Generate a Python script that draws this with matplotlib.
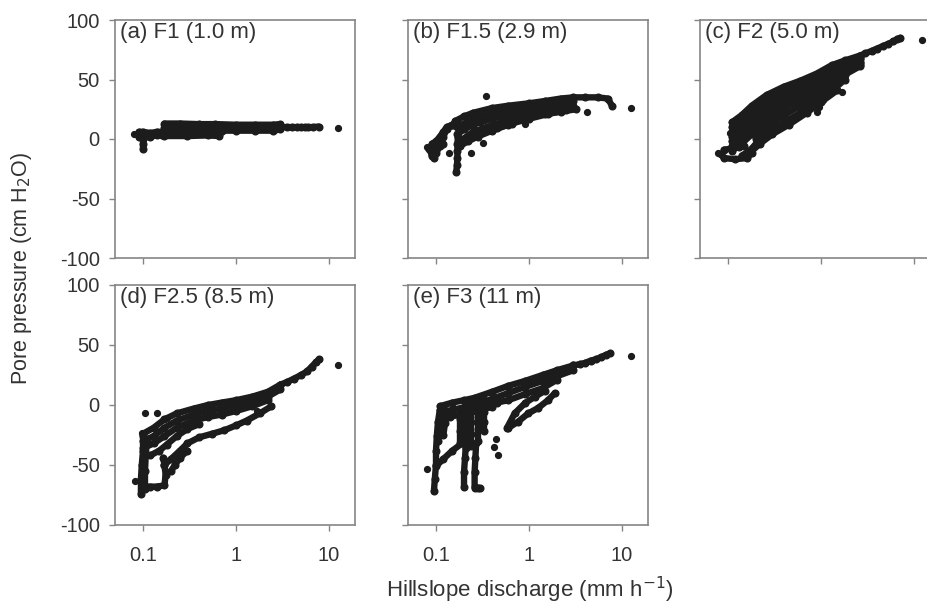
import numpy as np
import matplotlib
matplotlib.use("Agg")
import matplotlib.pyplot as plt
from matplotlib.ticker import NullLocator, FixedLocator, FixedFormatter

plt.rcParams['font.family'] = ['Liberation Sans', 'DejaVu Sans']
plt.rcParams['axes.unicode_minus'] = False

# ---- data (x: mm/h, y: cm H2O) ----
# each panel = several traces (dense loops) + a few loose points

# (a) F1
f1_tr_x = [[0.09, 0.1, 0.12, 0.14, 0.16],
           [0.09, 0.1, 0.12, 0.14, 0.16],
           [0.1, 0.1, 0.1],
           [0.17, 0.25, 0.4, 0.6, 1.0, 1.6, 2.5, 3.0],
           [0.17, 0.25, 0.4, 0.6, 1.0, 1.6, 2.5, 3.0],
           [0.17, 0.25, 0.4, 0.65, 0.7, 1.0, 1.6, 2.5, 3.0],
           [0.17, 0.3, 0.5, 0.65],
           [3.0, 3.5, 4.0, 4.5, 5.0, 5.5, 6.0, 6.8, 7.7]]
f1_tr_y = [[2, 1, 2, 3, 3],
           [6, 6, 5, 6, 6],
           [-8, -4, 0],
           [13, 13, 12.5, 12.5, 12, 12, 12, 12.5],
           [9.5, 9.5, 9.5, 9.5, 9.5, 9.5, 9.5, 9.5],
           [6, 6, 6, 4, 7, 7, 7, 7, 8],
           [2.5, 2.5, 3, 2.5],
           [10, 10, 10, 10, 10, 10, 10, 10, 10.5]]
f1_pt_x = [0.08, 12.5]
f1_pt_y = [4, 9]

# (b) F1.5
f15_tr_x = [[0.085, 0.09, 0.1, 0.11, 0.12, 0.13, 0.15],
            [0.09, 0.1, 0.11, 0.12, 0.13, 0.15, 0.17],
            [0.095, 0.1, 0.11, 0.12],
            [0.165, 0.168, 0.17, 0.17, 0.17, 0.172],
            [0.16, 0.2, 0.25, 0.4, 0.6, 1.0, 1.5, 2.2, 3.0, 4.0, 5.5, 7.0, 7.8],
            [0.17, 0.25, 0.4, 0.6, 1.0, 1.5, 2.2, 3.0],
            [0.17, 0.2, 0.25, 0.3, 0.4, 0.55, 0.75, 1.0, 1.5, 2.2],
            [0.18, 0.25, 0.35, 0.5, 0.8, 1.2, 2.0, 3.0],
            [0.2, 0.3, 0.45, 0.65, 1.0, 1.6, 2.5],
            [0.18, 0.22, 0.28, 0.4, 0.6, 0.95, 1.5, 2.2, 3.2]]
f15_tr_y = [[-8, -14, -12, -6, 2, 8, 12],
            [-4, -2, 2, 6, 10, 12, 14],
            [-16, -8, -2, -4],
            [-28, -22, -16, -10, -4, 2],
            [15, 19, 22, 26, 28, 30, 32, 34, 35, 35, 35, 34, 28],
            [10, 17, 21, 24, 27, 29, 31, 32],
            [4, 8, 12, 14, 17, 20, 23, 25, 27, 29],
            [-2, 6, 10, 14, 19, 23, 26, 28],
            [0, 5, 9, 13, 17, 21, 24],
            [-6, -2, 2, 7, 12, 18, 21, 23, 25]]
f15_pt_x = [0.08, 0.345, 0.9, 4.2, 12.4, 0.138, 0.32, 0.24]
f15_pt_y = [-7, 36, 13, 23, 26, -12, -3, -12]

# (c) F2
f2_tr_x = [[0.085, 0.09, 0.12, 0.16, 0.18],
           [0.09, 0.11, 0.13, 0.15],
           [0.11, 0.14, 0.18, 0.26, 0.4, 0.6, 0.9, 1.3, 1.8, 2.6],
           [0.11, 0.14, 0.18, 0.26, 0.4, 0.6, 0.9, 1.3, 1.8, 2.6],
           [0.11, 0.14, 0.18, 0.26, 0.4, 0.6, 0.9, 1.3, 1.8, 2.6],
           [0.11, 0.14, 0.18, 0.26, 0.4, 0.6, 0.9, 1.3, 1.8, 2.6],
           [0.11, 0.14, 0.18, 0.26, 0.4, 0.6, 0.9, 1.3, 1.8, 2.6],
           [0.11, 0.14, 0.18, 0.26, 0.4, 0.6, 0.9, 1.3, 1.8, 2.6],
           [0.11, 0.14, 0.18, 0.26, 0.4, 0.6, 0.9, 1.3, 1.8, 2.6],
           [0.2, 0.26, 0.4, 0.6, 0.9, 1.3],
           [0.14, 0.17, 0.2, 0.26, 0.4, 0.6, 0.9, 1.3, 1.8],
           [0.17, 0.22, 0.3, 0.45, 0.7, 1.0, 1.5],
           [2.6, 3.0, 3.5, 4.0, 4.6, 5.3, 6.0, 6.6, 7.1]]
f2_tr_y = [[-13, -16, -17, -16, -12],
           [-9, -8, -7, -6],
           [14, 20, 28, 37, 44, 49, 55, 62, 66, 70],
           [10, 16, 24, 33, 41, 46, 52, 59, 64, 68],
           [6, 12, 20, 30, 38, 44, 50, 57, 62, 67],
           [2, 8, 16, 26, 35, 41, 47, 54, 60, 65],
           [-2, 4, 12, 23, 32, 39, 45, 52, 58, 64],
           [-6, 0, 8, 19, 29, 36, 42, 49, 56, 62],
           [-10, -4, 4, 16, 26, 33, 40, 47, 54, 61],
           [0, 11, 20, 28, 36, 44],
           [-14, -10, -4, 6, 14, 22, 32, 40, 50],
           [-12, -4, 4, 12, 22, 31, 41],
           [70, 72, 74, 76, 78, 80, 82, 84, 85]]
f2_pt_x = [0.078, 12.1, 1.68, 1.05, 0.9, 0.95, 0.105]
f2_pt_y = [-12, 83, 39.5, 33, 23, 27, 5]

# (d) F2.5
f25_tr_x = [[0.095, 0.095, 0.097, 0.1, 0.1],
            [0.105, 0.105, 0.107, 0.11],
            [0.1, 0.12, 0.14, 0.17, 0.175, 0.17, 0.165],
            [0.1, 0.13, 0.17, 0.23, 0.35, 0.5, 0.7, 1.0, 1.5, 2.2, 3.0],
            [0.1, 0.13, 0.17, 0.23, 0.35, 0.5, 0.7, 1.0, 1.5, 2.2, 3.0],
            [0.1, 0.13, 0.17, 0.23, 0.35, 0.5, 0.7, 1.0, 1.5, 2.2],
            [0.12, 0.15, 0.18, 0.23, 0.3, 0.4],
            [0.17, 0.2, 0.25, 0.3, 0.4, 0.55, 0.75, 1.0, 1.3, 1.8, 2.4],
            [0.2, 0.22, 0.25, 0.3],
            [3.0, 3.5, 4.2, 5.0, 5.8, 6.5, 7.3, 7.8]]
f25_tr_y = [[-74, -62, -50, -38, -26],
            [-70, -55, -42, -30],
            [-68, -68, -68, -67, -58, -50, -44],
            [-24, -19, -12, -7, -3, 0, 2, 4, 7, 11, 17],
            [-30, -26, -19, -13, -8, -5, -3, 0, 3, 7, 13],
            [-36, -32, -26, -19, -13, -10, -8, -5, -1, 4],
            [-42, -38, -33, -26, -20, -16],
            [-50, -45, -38, -32, -27, -24, -21, -17, -13, -7, -1],
            [-55, -50, -44, -38],
            [17, 19, 22, 25, 28, 32, 36, 38]]
f25_pt_x = [0.082, 0.105, 0.141, 0.18, 0.098, 12.5, 1.7]
f25_pt_y = [-63, -7, -7, -11, -23, 33, -5]

# (e) F3
f3_tr_x = [[0.095, 0.097, 0.1, 0.1, 0.102, 0.105, 0.11],
           [0.105, 0.11, 0.115, 0.12],
           [0.12, 0.125, 0.13],
           [0.1, 0.12, 0.15, 0.19],
           [0.11, 0.15, 0.2, 0.26, 0.4, 0.6, 0.9, 1.4, 2.0, 3.0],
           [0.12, 0.15, 0.2, 0.26, 0.4, 0.6, 0.9, 1.4, 2.0, 3.0],
           [0.35, 0.45, 0.6, 0.9, 1.4, 2.0],
           [0.14, 0.18, 0.24, 0.3, 0.4],
           [0.18, 0.18, 0.18, 0.18],
           [0.21, 0.21, 0.21, 0.21, 0.21],
           [0.24, 0.24, 0.24, 0.24, 0.24],
           [0.28, 0.28, 0.28, 0.28, 0.28],
           [0.33, 0.33, 0.33, 0.33, 0.33],
           [0.2, 0.2, 0.205, 0.21],
           [0.26, 0.26, 0.265, 0.27],
           [0.26, 0.28, 0.3],
           [0.58, 0.7, 0.9, 1.16, 1.5],
           [0.6, 0.76, 0.98, 1.25, 1.6, 1.9],
           [3.0, 3.5, 4.0, 4.6, 5.2, 6.0, 6.8, 7.4]]
f3_tr_y = [[-72, -62, -50, -38, -26, -14, -4],
           [-30, -20, -10, -2],
           [-25, -15, -5],
           [-51, -45, -38, -32],
           [-1, 2, 4, 6, 11, 16, 20, 25, 29, 33],
           [-6, -4, -2, 0, 5, 10, 15, 20, 24, 29],
           [0, 2, 4, 9, 14, 21],
           [-10, -8, -6, -3, -2],
           [-32, -22, -12, -3],
           [-36, -26, -16, -6, 0],
           [-34, -24, -14, -4, 2],
           [-30, -20, -10, 0, 3],
           [-22, -14, -6, 2, 4],
           [-68, -56, -44, -32],
           [-68, -56, -44, -32],
           [-69, -69, -69],
           [-19, -7, 1.4, 7, 12],
           [-19, -14, -7, -2.5, 4, 10],
           [33, 34, 35, 37, 38, 40, 42, 43]]
f3_pt_x = [0.08, 12.5, 0.46, 0.42, 0.44]
f3_pt_y = [-53, 41, -42, -35, -28]

panel_titles = ["(a) F1 (1.0 m)", "(b) F1.5 (2.9 m)", "(c) F2 (5.0 m)",
                "(d) F2.5 (8.5 m)", "(e) F3 (11 m)"]
x_ticks = [0.1, 1, 10]
x_tick_labels = ["0.1", "1", "10"]
y_ticks = [-100, -50, 0, 50, 100]

panels = [(f1_tr_x, f1_tr_y, f1_pt_x, f1_pt_y),
          (f15_tr_x, f15_tr_y, f15_pt_x, f15_pt_y),
          (f2_tr_x, f2_tr_y, f2_pt_x, f2_pt_y),
          (f25_tr_x, f25_tr_y, f25_pt_x, f25_pt_y),
          (f3_tr_x, f3_tr_y, f3_pt_x, f3_pt_y)]

# ---- layout (pixels of the 928x609 picture) ----
W, H = 928, 609
lefts = [115, 408, 700]
row_tb = [(20, 258), (285, 525)]
ax_w = 240

dot = '#1c1c1c'
edge = '#858585'
txt = '#333333'

fig = plt.figure(figsize=(W / 100, H / 100), dpi=100)

for i, (tx, ty, px, py) in enumerate(panels):
    r, c = divmod(i, 3)
    top, bot = row_tb[r]
    ax = fig.add_axes([lefts[c] / W, (H - bot) / H, ax_w / W, (bot - top) / H])
    for xs, ys in zip(tx, ty):
        ax.plot(xs, ys, '-o', color=dot, lw=4.6, ms=4.8, solid_capstyle='round')
    ax.plot(px, py, 'o', color=dot, ms=4.2, lw=0)

    ax.set_xscale('log')
    ax.set_xlim(0.05, 19)
    ax.set_ylim(-100, 100)
    ax.xaxis.set_major_locator(FixedLocator(x_ticks))
    ax.xaxis.set_minor_locator(NullLocator())
    ax.set_yticks(y_ticks)
    if r == 1:
        ax.xaxis.set_major_formatter(FixedFormatter(x_tick_labels))
    else:
        ax.set_xticklabels([])
    if c != 0:
        ax.set_yticklabels([])
    ax.tick_params(direction='out', length=4, width=1, color=edge,
                   labelsize=14.5, labelcolor=txt)
    ax.tick_params(axis='x', pad=11)
    ax.tick_params(axis='y', pad=7)
    for s in ax.spines.values():
        s.set_color(edge)
        s.set_linewidth(1.2)
    ax.text(0.02, 0.99, panel_titles[i], transform=ax.transAxes,
            ha='left', va='top', fontsize=16, color=txt)

fig.text(22 / W, 1 - 268 / H, 'Pore pressure (cm H$_2$O)', rotation=90,
         ha='center', va='center', fontsize=15.5, color=txt)
fig.text(530 / W, 1 - 590 / H, 'Hillslope discharge (mm h$^{-1}$)',
         ha='center', va='center', fontsize=16, color=txt)

plt.savefig('out.png', dpi=100)
